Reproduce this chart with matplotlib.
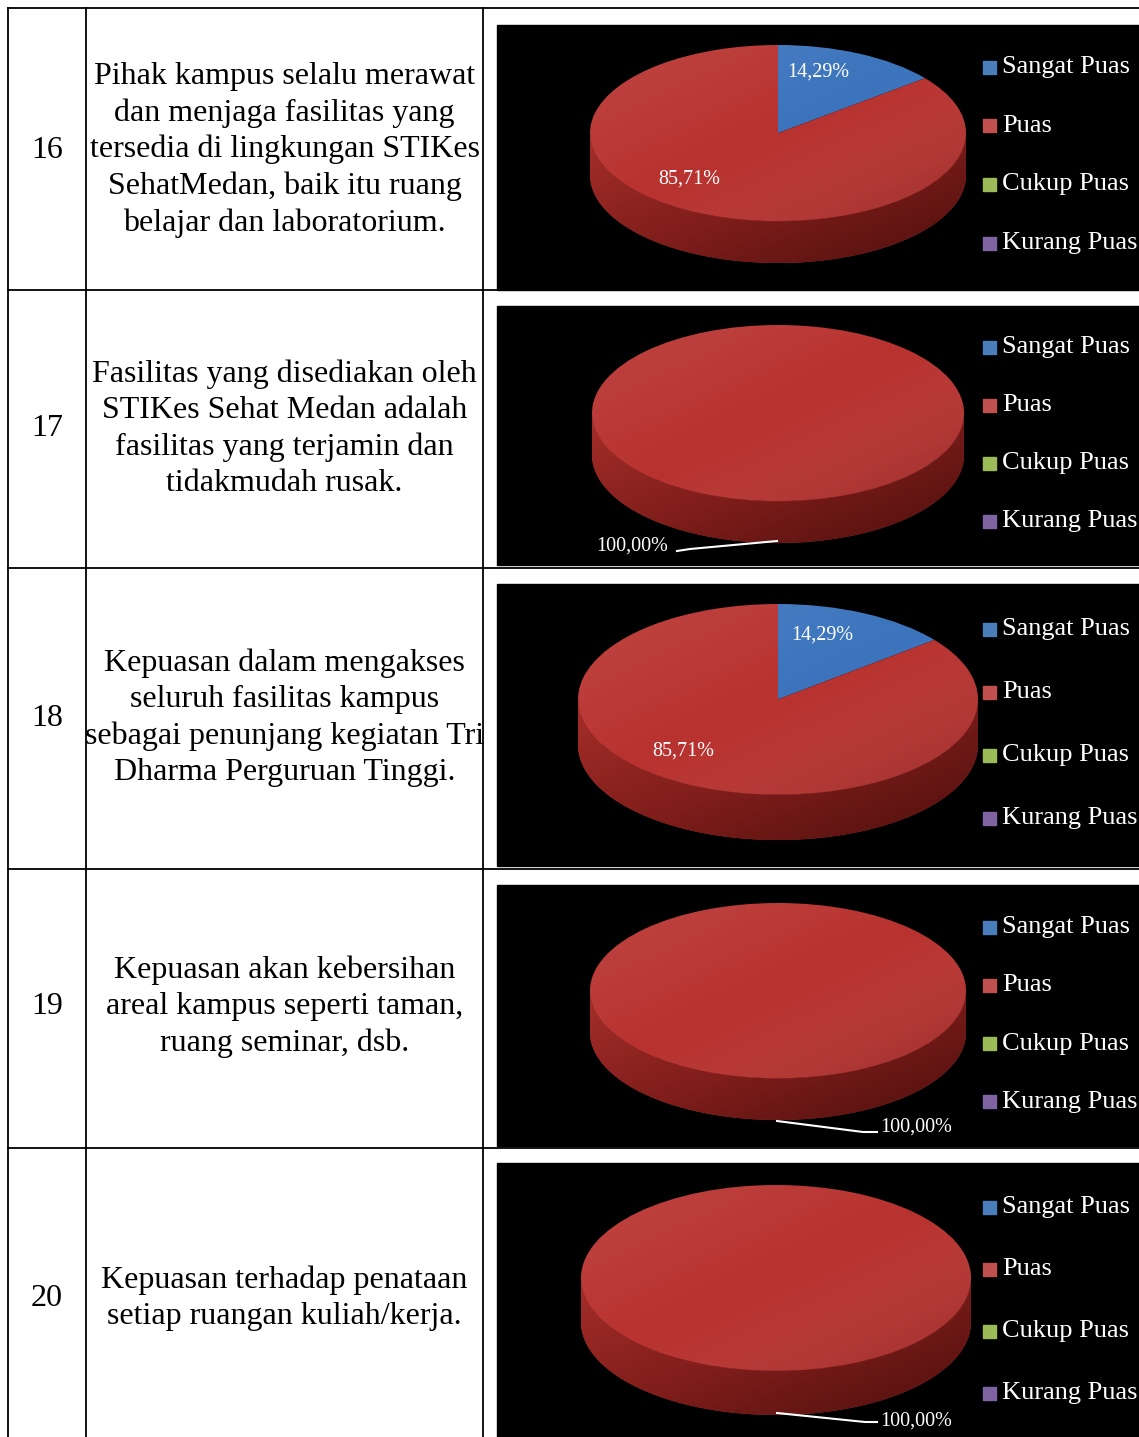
import matplotlib
matplotlib.use("Agg")
import matplotlib.pyplot as plt
import numpy as np
from matplotlib.patches import Rectangle, Polygon, Circle
from matplotlib.colors import LinearSegmentedColormap

plt.rcParams['font.family'] = ['Liberation Serif', 'DejaVu Serif']

# ---- data ----
nomor = ["16", "17", "18", "19", "20"]
pernyataan = [
    "Pihak kampus selalu merawat\ndan menjaga fasilitas yang\ntersedia di lingkungan STIKes\nSehatMedan, baik itu ruang\nbelajar dan laboratorium.",
    "Fasilitas yang disediakan oleh\nSTIKes Sehat Medan adalah\nfasilitas yang terjamin dan\ntidakmudah rusak.",
    "Kepuasan dalam mengakses\nseluruh fasilitas kampus\nsebagai penunjang kegiatan Tri\nDharma Perguruan Tinggi.",
    "Kepuasan akan kebersihan\nareal kampus seperti taman,\nruang seminar, dsb.",
    "Kepuasan terhadap penataan\nsetiap ruangan kuliah/kerja.",
]
kategori = ["Sangat Puas", "Puas", "Cukup Puas", "Kurang Puas"]
sangat_puas = [14.29, 0.0, 14.29, 0.0, 0.0]
puas = [85.71, 100.0, 85.71, 100.0, 100.0]
cukup_puas = [0.0, 0.0, 0.0, 0.0, 0.0]
kurang_puas = [0.0, 0.0, 0.0, 0.0, 0.0]

warna = ["#3b74bd", "#b8322f", "#98b954", "#7d60a0"]
warna_legend = ["#4a7ebb", "#c0504d", "#9bbb59", "#8064a2"]

# ---- layout (pixels) ----
W, H = 1139, 1437
row_lines = [8, 290, 568, 869, 1148]
col_lines = [8, 86, 483]
row_text_y = [150, 429, 718, 1007, 1298]
panels = [(497, 25, 290), (497, 306, 565), (497, 584, 866), (497, 885, 1146), (497, 1163, 1437)]
# pie: center x, top y, half width, total height
pies = [(778, 45, 188, 218), (778, 325, 186, 218), (778, 604, 200, 236),
        (778, 903, 188, 217), (776, 1185, 195, 230)]
legend_y = [(67, 58.7), (347, 58), (629, 63), (927, 58.3), (1207, 62)]
label_pos = [
    [(818, 72, "center"), (689, 179, "center")],
    [(632, 546, "center")],
    [(822, 635, "center"), (683, 751, "center")],
    [(880, 1127, "left")],
    [(880, 1421, "left")],
]
leader = [None, [(677, 551), (690, 549), (777, 541)], None,
          [(777, 1121), (863, 1132), (877, 1132)],
          [(777, 1413), (865, 1422), (877, 1422)]]

fig = plt.figure(figsize=(W / 100, H / 100), dpi=100)
base = fig.add_axes([0, 0, 1, 1])
base.set_xlim(0, W)
base.set_ylim(H, 0)
base.axis('off')

# table grid
for y in row_lines:
    base.plot([8, W], [y, y], color='black', lw=1.3)
for x in col_lines:
    base.plot([x, x], [8, H], color='black', lw=1.3)

for i in range(5):
    base.text(47, row_text_y[i], nomor[i], fontsize=23, ha='center', va='center')
    base.text(284.5, row_text_y[i], pernyataan[i], fontsize=23, ha='center',
              va='center', multialignment='center', linespacing=1.32)
    x0, y0, y1 = panels[i]
    base.add_patch(Rectangle((x0, y0), W - x0, y1 - y0, color='black'))

side_cmap = LinearSegmentedColormap.from_list("side", ["#a52e2a", "#7e1d1a", "#4e100e"])
shade_cmap = LinearSegmentedColormap.from_list("shade", [(1, 1, 1, 0.10), (1, 1, 1, 0.0), (0, 0, 0, 0.18)])

for i in range(5):
    vals = [sangat_puas[i], puas[i], cukup_puas[i], kurang_puas[i]]
    cx, top, a, total = pies[i]
    b = total * 0.404
    d = total - 2 * b
    dd = d / b
    ax = fig.add_axes([(cx - a) / W, 1 - (top + total) / H, 2 * a / W, total / H])
    ax.patch.set_alpha(0)
    wedges, _ = ax.pie(vals, colors=warna, startangle=90, counterclock=False,
                       radius=1, wedgeprops=dict(linewidth=0))
    ax.set_aspect('auto')
    ax.axis('off')

    # side wall for the front part of each wedge
    for w, c in zip(wedges, warna):
        t1, t2 = w.theta1, w.theta2
        if t2 - t1 < 1e-6:
            continue
        for k in (-360, 0, 360):
            lo, hi = max(t1, 180 + k), min(t2, 360 + k)
            if hi <= lo:
                continue
            t = np.radians(np.linspace(lo, hi, 120))
            xs = np.cos(t)
            ys = np.sin(t)
            pts = np.column_stack([np.r_[xs, xs[::-1]], np.r_[ys, ys[::-1] - dd]])
            poly = Polygon(pts, closed=True, fc=c, ec='none', zorder=0)
            ax.add_patch(poly)
            gx = np.linspace(0, 1, 200)
            gy = np.linspace(0, 1, 60)
            grad = 0.55 * gx[None, :] + 0.45 * gy[:, None]
            im = ax.imshow(grad, cmap=side_cmap, extent=(-1, 1, -1 - dd, 0),
                           origin='upper', aspect='auto', zorder=0.5)
            im.set_clip_path(poly)

    # soft light on the top face
    clip = Circle((0, 0), 1, fc='none', ec='none', transform=ax.transData)
    ax.add_patch(clip)
    gx = np.linspace(0, 1, 200)
    gy = np.linspace(0, 1, 100)
    shade = 0.5 * gx[None, :] + 0.5 * gy[:, None]
    im = ax.imshow(shade, cmap=shade_cmap, extent=(-1, 1, -1, 1), origin='upper',
                   aspect='auto', zorder=3)
    im.set_clip_path(clip)
    ax.set_xlim(-1, 1)
    ax.set_ylim(-1 - dd, 1)

# overlay for labels and legends
top_ax = fig.add_axes([0, 0, 1, 1])
top_ax.set_xlim(0, W)
top_ax.set_ylim(H, 0)
top_ax.axis('off')
top_ax.patch.set_alpha(0)

for i in range(5):
    vals = [sangat_puas[i], puas[i], cukup_puas[i], kurang_puas[i]]
    shown = [v for v in vals if v > 0]
    for v, (x, y, ha) in zip(shown, label_pos[i]):
        top_ax.text(x, y, f"{v:.2f}%".replace('.', ','), color='white',
                    fontsize=14.5, ha=ha, va='center')
    if leader[i] is not None:
        lx, ly = zip(*leader[i])
        top_ax.plot(lx, ly, color='white', lw=1.5)
    y0, step = legend_y[i]
    for j, name in enumerate(kategori):
        yy = y0 + j * step
        top_ax.add_patch(Rectangle((983, yy - 6.5), 13, 13, color=warna_legend[j]))
        top_ax.text(1002, yy, name, color='white', fontsize=19, ha='left', va='center')

fig.savefig("out.png", dpi=100)
